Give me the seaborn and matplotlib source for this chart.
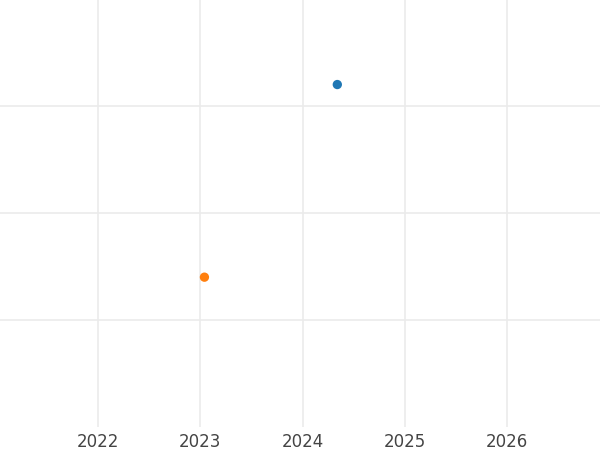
import pandas as pd
import seaborn as sns
import matplotlib.pyplot as plt

# values (y axis has no labels, so units are arbitrary)
series = ["A", "B"]
years = [2024.34, 2023.04]
values = [3.2, 1.4]
x_ticks = [2022, 2023, 2024, 2025, 2026]
y_grid = [1, 2, 3]

df = pd.DataFrame({"series": series, "year": years, "value": values})

sns.set_theme(style="whitegrid")
plt.rcParams["font.family"] = ["DejaVu Sans"]

fig = plt.figure(figsize=(6, 4.5), dpi=100)
ax = fig.add_axes([0, 23 / 450, 1, 427 / 450])

palette = {"A": "#1f77b4", "B": "#ff7f0e"}
sns.scatterplot(
    data=df,
    x="year",
    y="value",
    hue="series",
    palette=palette,
    s=45,
    linewidth=0,
    legend=False,
    ax=ax,
)

ax.set_xlim(2021.04, 2026.91)
ax.set_ylim(0, 3.99)
ax.set_xticks(x_ticks)
ax.set_xticklabels([str(t) for t in x_ticks])
ax.set_yticks(y_grid)
ax.set_yticklabels([])
ax.tick_params(axis="x", length=0, pad=4, labelsize=12, labelcolor="#444444")
ax.tick_params(axis="y", length=0)
ax.grid(True, color="#ebebeb", linewidth=1.2)
ax.set_xlabel("")
ax.set_ylabel("")
for spine in ax.spines.values():
    spine.set_visible(False)

fig.savefig("out.png", dpi=100)
plt.close()
